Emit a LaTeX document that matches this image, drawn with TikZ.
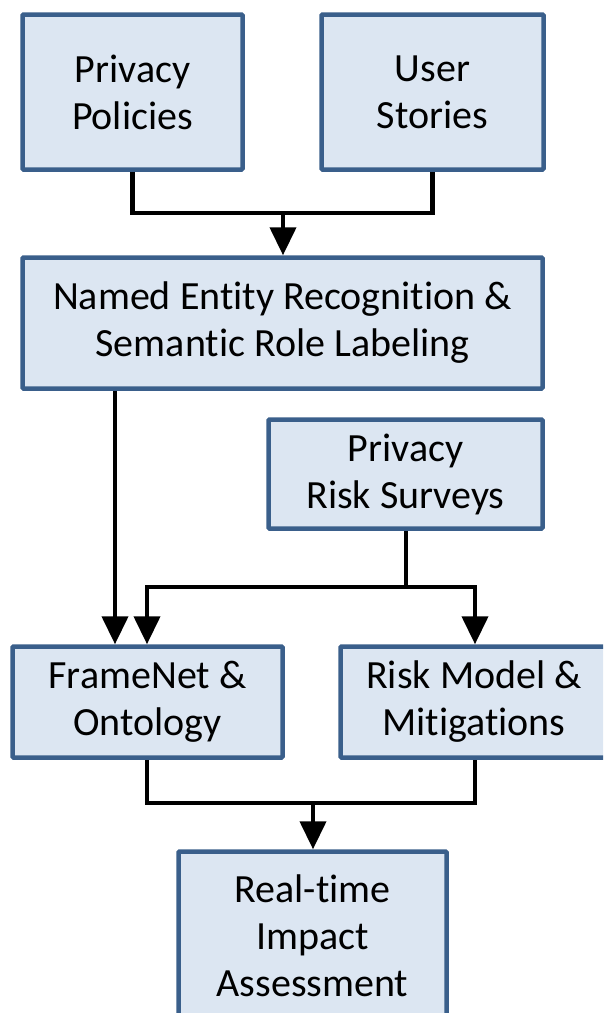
\documentclass[tikz,border=0pt]{standalone}
\usepackage{fontspec}
\setmainfont{Carlito}[Ligatures=NoCommon]
\usetikzlibrary{arrows.meta}
\definecolor{boxfill}{HTML}{DCE6F2}
\definecolor{boxline}{HTML}{3A5F8B}
\begin{document}
\begin{tikzpicture}[x=1pt,y=-1pt,
  box/.style={draw=boxline,fill=boxfill,line width=4.5pt,rounded corners=1pt,
    align=center,inner sep=0pt,font=\fontsize{40}{47}\selectfont},
  conn/.style={draw=black,line width=4.2pt,line join=miter},
  arr/.style={conn,-{Triangle[width=26pt,length=28pt]}}]
\useasboundingbox (0,0) rectangle (603,1013);
\clip (0,0) rectangle (603,1013);
\node[box,minimum width=220pt,minimum height=155pt] (pp) at (132.5,92) {Privacy\\Policies};
\node[box,minimum width=222pt,minimum height=155pt] (us) at (432.5,92) {User\\Stories};
\node[box,minimum width=520pt,minimum height=131pt] (ner) at (282.5,323) {Named Entity Recognition \&\\Semantic Role Labeling};
\node[box,minimum width=274pt,minimum height=109pt] (prs) at (405.5,474) {Privacy\\Risk Surveys};
\node[box,minimum width=270pt,minimum height=111pt] (fn) at (147.5,702) {FrameNet \&\\Ontology};
\node[box,minimum width=267pt,minimum height=111pt] (rm) at (474,702) {Risk Model \&\\Mitigations};
\node[box,minimum width=268pt,minimum height=169pt] (rt) at (312.5,936) {Real-time\\Impact\\Assessment};
\coordinate (j1) at (283,213);
\coordinate (x1) at (115,0);
\coordinate (x2) at (147,0);
\coordinate (x3) at (475,0);
\coordinate (j2) at (406,587);
\coordinate (j3) at (313,803);
\draw[conn] (pp.south) |- (j1) -| (us.south);
\draw[arr] (j1) -- (ner.north -| j1);
\draw[arr] (ner.south -| x1) -- (fn.north -| x1);
\draw[conn] (prs.south -| j2) -- (j2);
\draw[arr] (j2) -| (fn.north -| x2);
\draw[arr] (j2) -| (rm.north -| x3);
\draw[conn] (fn.south -| x2) |- (j3) -| (rm.south -| x3);
\draw[arr] (j3) -- (rt.north -| j3);
\end{tikzpicture}
\end{document}
